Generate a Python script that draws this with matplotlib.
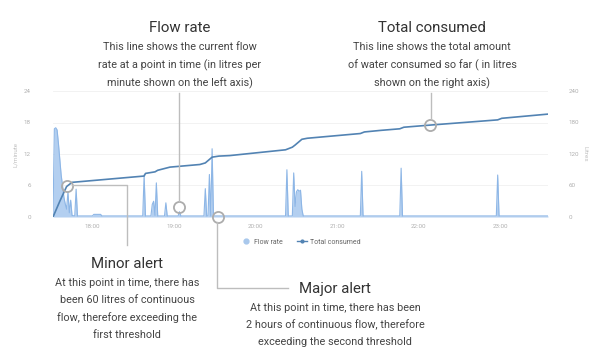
import matplotlib
matplotlib.use("Agg")
import matplotlib.pyplot as plt
from matplotlib.lines import Line2D

plt.rcParams["font.family"] = ["Roboto", "DejaVu Sans"]

# Flow rate (L/minute, left axis)
flow_times = ["17:31", "17:32", "17:33", "17:34", "17:35", "17:36", "17:37", "17:38",
              "17:39", "17:40", "17:41", "17:42", "17:43", "17:44", "17:45", "17:47",
              "17:48", "17:49", "18:00", "18:01", "18:06", "18:07", "18:37", "18:38",
              "18:39", "18:43", "18:44", "18:45", "18:46", "18:47", "18:48", "18:53",
              "18:54", "18:55", "19:03", "19:04", "19:05", "19:22", "19:23", "19:24",
              "19:25", "19:26", "19:27", "19:28", "19:29", "20:22", "20:23", "20:24",
              "20:27", "20:28", "20:29", "20:30", "20:31", "20:32", "20:33", "20:34",
              "20:35", "21:17", "21:18", "21:19", "21:46", "21:47", "21:48", "22:57",
              "22:58", "22:59", "23:35"]
flow_values = [0.2, 16.8, 17.0, 16.6, 14.0, 11.0, 8.0, 6.0,
               3.8, 2.5, 1.5, 4.8, 0.8, 3.2, 0.3, 0.2,
               5.3, 0.2, 0.2, 0.5, 0.5, 0.2, 0.2, 8.0,
               0.2, 0.2, 2.4, 3.0, 0.3, 6.5, 0.2, 0.2,
               2.7, 0.2, 0.2, 1.0, 0.2, 0.2, 5.4, 0.2,
               0.2, 8.1, 0.2, 13.0, 0.2, 0.2, 9.0, 0.2,
               0.2, 8.4, 2.0, 4.8, 5.2, 4.9, 5.1, 1.5,
               0.2, 0.2, 8.7, 0.2, 0.2, 9.3, 0.2, 0.2,
               8.0, 0.2, 0.2]

# Total consumed (litres, right axis)
total_times = ["17:31", "17:36", "17:41", "17:45", "18:38", "18:39", "18:46", "18:48",
               "18:57", "19:19", "19:23", "19:28", "19:33", "19:41", "20:22", "20:27",
               "20:29", "20:34", "20:38", "21:17", "21:20", "21:32", "21:46", "21:49",
               "22:08", "22:58", "23:01", "23:35"]
total_values = [0, 30, 58, 66, 78, 83, 86, 89,
                95, 100, 103, 114, 116, 117, 128, 133,
                137, 148, 150, 159, 162, 165, 168, 171,
                175, 185, 188, 196]

x_ticks = ["18:00", "19:00", "20:00", "21:00", "22:00", "23:00"]
left_ticks = [0, 6, 12, 18, 24]
right_ticks = [0, 60, 120, 180, 240]


def hours(t):
    h, m = t.split(":")
    return int(h) + int(m) / 60


ft = [hours(t) for t in flow_times]
tt = [hours(t) for t in total_times]

W, H = 605, 357
fig = plt.figure(figsize=(W / 100, H / 100), dpi=100)


def fx(x):
    return x / W


def fy(y):
    return 1 - y / H


ax = fig.add_axes([fx(53), fy(217), fx(548) - fx(53), fy(91) - fy(217)])
ax2 = ax.twinx()

ax.fill_between(ft, flow_values, color="#b3cff0", lw=0, zorder=2)
ax.plot(ft, flow_values, color="#8db6e6", lw=0.8, zorder=3)
ax2.plot(tt, total_values, color="#5283b3", lw=1.2, zorder=4)

ax.set_xlim(hours("17:31"), hours("23:35"))
ax.set_ylim(0, 24)
ax2.set_ylim(0, 240)
ax.set_xticks([hours(t) for t in x_ticks])
ax.set_xticklabels(x_ticks)
ax.set_yticks(left_ticks)
ax2.set_yticks(right_ticks)

for a in (ax, ax2):
    for s in a.spines.values():
        s.set_visible(False)
    a.tick_params(length=0, labelsize=4.5, labelcolor="#b0b0b0")
ax.tick_params(axis="y", pad=16)
ax2.tick_params(axis="y", pad=15)
ax.tick_params(axis="x", pad=5)
ax.grid(axis="y", color="#f0f0f0", lw=0.6)
ax.set_axisbelow(True)
ax.set_ylabel("L/minute", fontsize=4.5, color="#c0c0c0", labelpad=4)
ax2.set_ylabel("Litres", fontsize=4.5, color="#c0c0c0", rotation=270, labelpad=6)

# legend
handles = [Line2D([], [], ls="none", marker="o", ms=3.5, color="#a9c8ec"),
           Line2D([], [], color="#5283b3", lw=1, marker="o", ms=2)]
fig.legend(handles, ["Flow rate", "Total consumed"], loc="center",
           bbox_to_anchor=(fx(301), fy(242)), ncol=2, frameon=False,
           fontsize=5, labelcolor="#666666", handlelength=1.4, columnspacing=2,
           handletextpad=0.5)

# annotation circles
ring = dict(marker="o", ms=8, mfc="none", mec="#acacac", mew=1.3, clip_on=False, zorder=6)
ax.plot([hours("19:04")], [1.9], **ring)
ax.plot([hours("19:32")], [0.0], **ring)
ax2.plot([hours("22:08")], [175], **ring)
ax2.plot([hours("17:41")], [59], **ring)

# leader lines
lead = dict(color="#bdbdbd", lw=1.0, transform=fig.transFigure)
fig.add_artist(Line2D([fx(179), fx(179)], [fy(93), fy(201)], **lead))
fig.add_artist(Line2D([fx(431), fx(431)], [fy(93), fy(119)], **lead))
fig.add_artist(Line2D([fx(72), fx(127), fx(127)], [fy(185), fy(185), fy(245)], **lead))
fig.add_artist(Line2D([fx(217), fx(217), fx(288)], [fy(222), fy(288), fy(288)], **lead))

title_kw = dict(ha="center", va="center", fontsize=10.8, color="#333333")
body_kw = dict(ha="center", va="center", fontsize=7.8, color="#444444")

fig.text(fx(180), fy(28), "Flow rate", **title_kw)
for y, s in zip([47, 65, 83], ["This line shows the current flow",
                               "rate at a point in time (in litres per",
                               "minute shown on the left axis)"]):
    fig.text(fx(180), fy(y), s, **body_kw)

fig.text(fx(432), fy(28), "Total consumed", **title_kw)
for y, s in zip([47, 65, 83], ["This line shows the total amount",
                               "of water consumed so far ( in litres",
                               "shown on the right axis)"]):
    fig.text(fx(432), fy(y), s, **body_kw)

fig.text(fx(127), fy(264), "Minor alert", **title_kw)
for y, s in zip([283, 300, 318, 335], ["At this point in time, there has",
                                       "been 60 litres of continuous",
                                       "flow, therefore exceeding the",
                                       "first threshold"]):
    fig.text(fx(127), fy(y), s, **body_kw)

fig.text(fx(335), fy(289), "Major alert", **title_kw)
for y, s in zip([308, 325, 342], ["At this point in time, there has been",
                                  "2 hours of continuous flow, therefore",
                                  "exceeding the second threshold"]):
    fig.text(fx(335), fy(y), s, **body_kw)

fig.savefig("out.png", dpi=100, facecolor="white")
